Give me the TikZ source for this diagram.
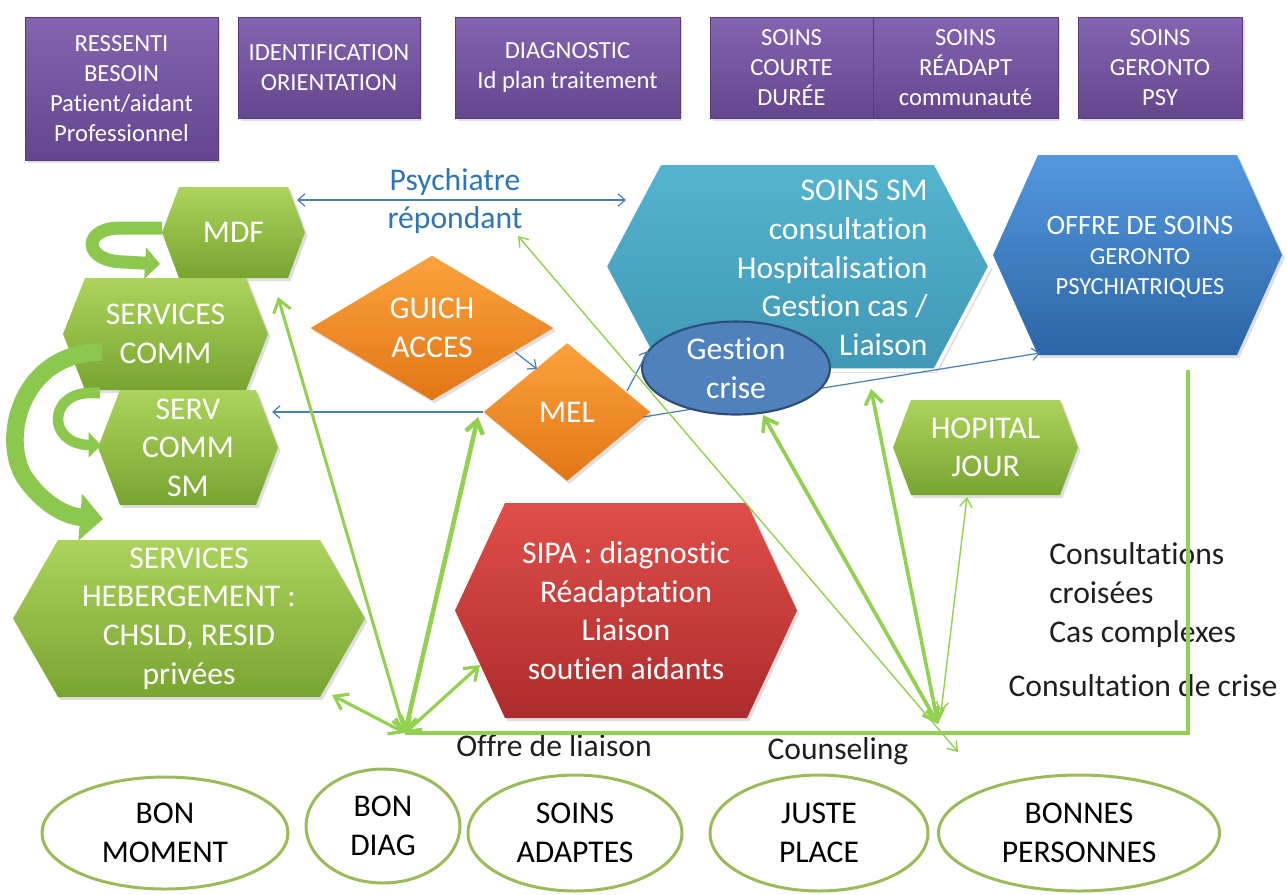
\documentclass[tikz,border=0pt]{standalone}
\usepackage{fontspec}
\setmainfont{Carlito}[RawFeature={-liga;-clig;-calt;-dlig}]
\usetikzlibrary{shapes.geometric,arrows.meta,shadows}

\definecolor{gTop}{RGB}{172,212,92}
\definecolor{gBot}{RGB}{120,164,48}
\definecolor{pTop}{RGB}{132,100,176}
\definecolor{pBot}{RGB}{100,70,142}
\definecolor{oTop}{RGB}{252,162,62}
\definecolor{oBot}{RGB}{226,118,22}
\definecolor{rTop}{RGB}{224,78,74}
\definecolor{rBot}{RGB}{172,44,44}
\definecolor{tTop}{RGB}{84,180,206}
\definecolor{tBot}{RGB}{64,152,182}
\definecolor{bTop}{RGB}{84,152,222}
\definecolor{bBot}{RGB}{44,100,166}
\definecolor{crisefill}{RGB}{79,129,189}
\definecolor{criseline}{RGB}{44,77,117}
\definecolor{gline}{RGB}{146,208,80}
\definecolor{bline}{RGB}{74,126,187}
\definecolor{olive}{RGB}{155,187,89}
\definecolor{psyblue}{RGB}{46,117,182}
\definecolor{garrow}{RGB}{140,200,78}

\newcommand{\hexshape}[8]{%
  \shade[#7] ({#2-#4},{#3}) -- ({#2-#4+#6},{#3-#5}) -- ({#2+#4-#6},{#3-#5}) -- ({#2+#4},{#3}) -- ({#2+#4-#6},{#3+#5}) -- ({#2-#4+#6},{#3+#5}) -- cycle;
  \node[hextext] (#1) at (#2,#3) {#8};}

\begin{document}
\begin{tikzpicture}[x=0.02cm,y=-0.02cm,
  shadowed/.style={drop shadow={opacity=0.25,shadow xshift=0.05cm,shadow yshift=-0.06cm}},
  greenhex/.style={top color=gTop,bottom color=gBot,shadowed},
  redhex/.style={top color=rTop,bottom color=rBot,shadowed},
  tealhex/.style={top color=tTop,bottom color=tBot,draw=white,line width=2pt,shadowed},
  bluehex/.style={top color=bTop,bottom color=bBot,shadowed},
  hextext/.style={text=white,font=\fontsize{18}{22}\selectfont,align=center,inner sep=0pt},
  purplebox/.style={rectangle,top color=pTop,bottom color=pBot,draw=pBot!85!black,line width=0.4pt,
    text=white,font=\fontsize{14}{17}\selectfont,align=center,inner sep=2pt,shadowed},
  diam/.style={diamond,top color=oTop,bottom color=oBot,text=white,font=\fontsize{18}{22}\selectfont,
    align=center,inner sep=0pt,shadowed},
  goal/.style={ellipse,draw=olive,line width=1.7pt,fill=white,font=\fontsize{18}{22}\selectfont,
    align=center,inner sep=0pt},
  blarrow/.style={draw=bline,line width=0.7pt,-{Straight Barb[length=4pt,width=7pt]}},
  bldouble/.style={draw=bline,line width=0.7pt,{Straight Barb[length=4pt,width=7pt]}-{Straight Barb[length=4pt,width=7pt]}},
  gdouble/.style={draw=gline,line width=#1,{Straight Barb[length=7pt,width=10pt]}-{Straight Barb[length=7pt,width=10pt]}},
  gthin/.style={draw=gline,line width=0.8pt,{Straight Barb[length=5pt,width=7pt]}-{Straight Barb[length=5pt,width=7pt]}},
  curv/.style={draw=garrow,line width=#1},
  blacktext/.style={font=\fontsize{18}{22}\selectfont,text=black!88,inner sep=0pt}]

\useasboundingbox (0,0) rectangle (1287,894);

% ---------- top row ----------
\node[purplebox,minimum width=3.86cm,minimum height=2.86cm] (ress) at (121.5,88.5) {RESSENTI\\BESOIN\\Patient/aidant\\Professionnel};
\node[purplebox,minimum width=3.64cm,minimum height=2.02cm] (ident) at (329,67.5) {IDENTIFICATION\\ORIENTATION};
\node[purplebox,minimum width=4.5cm,minimum height=2.02cm] (diag) at (567.5,67.5) {DIAGNOSTIC\\Id plan traitement};
\node[purplebox,minimum width=3.26cm,minimum height=2.02cm] (court) at (791.5,67.5) {SOINS\\COURTE\\DURÉE};
\node[purplebox,minimum width=3.7cm,minimum height=2.02cm] (readapt) at (965.5,67.5) {SOINS\\RÉADAPT\\communauté};
\node[purplebox,minimum width=3.28cm,minimum height=2.02cm] (geronto) at (1160,67.5) {SOINS\\GERONTO\\PSY};

% ---------- hexagons ----------
\hexshape{mdf}{233.5}{232.5}{71.5}{45.5}{17}{greenhex}{MDF}
\hexshape{scomm}{165.5}{334}{102.5}{56}{22}{greenhex}{SERVICES\\COMM}
\hexshape{scsm}{188}{447.5}{90}{57.5}{22}{greenhex}{SERV\\COMM\\SM}
\hexshape{heb}{189}{618.5}{176}{78.5}{45}{greenhex}{SERVICES\\HEBERGEMENT :\\CHSLD, RESID\\privées}
\hexshape{sipa}{626}{610.5}{171}{107.5}{50}{redhex}{SIPA : diagnostic\\Réadaptation\\Liaison\\soutien aidants}
\hexshape{hop}{985.5}{447.5}{92.5}{47.5}{18}{greenhex}{HOPITAL\\JOUR}

\shade[tealhex] (605,266.5) -- (660,163) -- (935,163) -- (990,266.5) -- (935,370) -- (660,370) -- cycle;
\node[hextext,align=right,anchor=east] (soinssm) at (928,268) {SOINS SM\\consultation\\Hospitalisation\\Gestion cas /\\Liaison};

\shade[bluehex] (993,255) -- (1038,155) -- (1237,155) -- (1282,255) -- (1237,355) -- (1038,355) -- cycle;
\node[hextext,font=\fontsize{14}{17}\selectfont] (offre) at (1140,257) {{\fontsize{16}{17}\selectfont OFFRE DE SOINS}\\GERONTO\\PSYCHIATRIQUES};

% ---------- diamonds ----------
\node[diam,minimum width=4.86cm,minimum height=2.9cm] (guich) at (432,328) {GUICH\\ACCES};
\node[diam,minimum width=3.34cm,minimum height=2.76cm] (mel) at (567,412) {MEL};

% ---------- blue connectors ----------
\coordinate (melR) at (643,417);
\coordinate (offreBL) at (1040,353);
\draw[blarrow] (melR) -- (offreBL);

\node[ellipse,fill=crisefill,draw=criseline,line width=1.2pt,minimum width=3.76cm,minimum height=1.86cm,
  text=white,font=\fontsize{18}{22}\selectfont,align=center,inner sep=0pt] (crise) at (736,368) {Gestion\\crise};

\node[font=\fontsize{18}{22}\selectfont,text=psyblue,align=center,inner sep=0pt] (psy) at (455,201) {Psychiatre\\répondant};

\coordinate (mdfE) at (297,200);
\coordinate (ssmW) at (626,200);
\draw[bldouble] (mdfE) -- (ssmW);
\coordinate (scsmE) at (272,412);
\draw[blarrow] (mel.west) -- (scsmE);
\coordinate (guichSE) at (515,352);
\coordinate (melNW) at (537,369);
\draw[blarrow] (guichSE) -- (melNW);
\coordinate (melNE) at (627,391);
\coordinate (criseW) at (648,351);
\draw[blarrow] (melNE) -- (criseW);

% ---------- texts ----------
\node[blacktext,align=left,anchor=west] (consult) at (1049,595) {Consultations\\croisées\\Cas complexes};
\node[blacktext] (crisetxt) at (1143,686) {Consultation de crise};
\node[blacktext] (liaison) at (554,746) {Offre de liaison};
\node[blacktext] (counsel) at (838,751) {Counseling};

% ---------- green connectors ----------
\coordinate (hubA) at (405,733);
\coordinate (corner) at (1188,733);
\coordinate (vtop) at (1188,370);
\draw[gline,line width=2.8pt] (hubA) -- (corner) -- (vtop);

\coordinate (mdfS) at (278,297);
\coordinate (hebSE) at (332,695);
\coordinate (sipaW) at (480,665);
\coordinate (melW) at (478,417);
\draw[gdouble=1.7pt] (hubA) -- (mdfS);
\draw[gdouble=1.8pt] (hubA) -- (hebSE);
\draw[gdouble=1.8pt] (hubA) -- (sipaW);
\draw[gdouble=2.6pt] (hubA) -- (melW);

\coordinate (hubB) at (938,724);
\coordinate (hubB2) at (941,712);
\coordinate (criseS) at (763,415);
\coordinate (ssmS) at (871,389);
\coordinate (hopS) at (967,497);
\coordinate (psySE) at (518,236);
\coordinate (counselE) at (958,752);
\draw[gdouble=2.1pt] (hubB) -- (criseS);
\draw[gdouble=2pt] (hubB) -- (ssmS);
\draw[gthin] (hubB2) -- (hopS);
\draw[gthin] (psySE) -- (counselE);

% ---------- curved block arrows ----------
\coordinate (c1s) at (162,228);
\coordinate (c1e) at (160,264);
\draw[curv=7.4pt,-{Triangle[length=8.5pt,width=17.5pt]}] (c1s) -- (120,228) .. controls (82,228) and (82,262) .. (125,262) -- (c1e);
\coordinate (c2s) at (102,352);
\coordinate (c2e) at (103,519);
\draw[curv=10pt,-{Triangle[length=13pt,width=26pt]}] (c2s) .. controls (20,352) and (0,440) .. (25,478) .. controls (42,503) and (65,516) .. (c2e);
\coordinate (c3s) at (100,393);
\coordinate (c3e) at (101,445);
\draw[curv=6pt,-{Triangle[length=7pt,width=14pt]}] (c3s) -- (88,393) .. controls (48,395) and (48,443) .. (88,445) -- (c3e);

% ---------- bottom goals ----------
\node[goal,minimum width=4.92cm,minimum height=2.24cm] (bm) at (165,833) {BON\\MOMENT};
\node[goal,minimum width=3.08cm,minimum height=2.28cm] (bd) at (383,826) {BON\\DIAG};
\node[goal,minimum width=4.28cm,minimum height=2.32cm] (sa) at (575,833) {SOINS\\ADAPTES};
\node[goal,minimum width=4.36cm,minimum height=2.32cm] (jp) at (819,833) {JUSTE\\PLACE};
\node[goal,minimum width=5.62cm,minimum height=2.32cm] (bp) at (1079,833) {BONNES\\PERSONNES};

\end{tikzpicture}
\end{document}
